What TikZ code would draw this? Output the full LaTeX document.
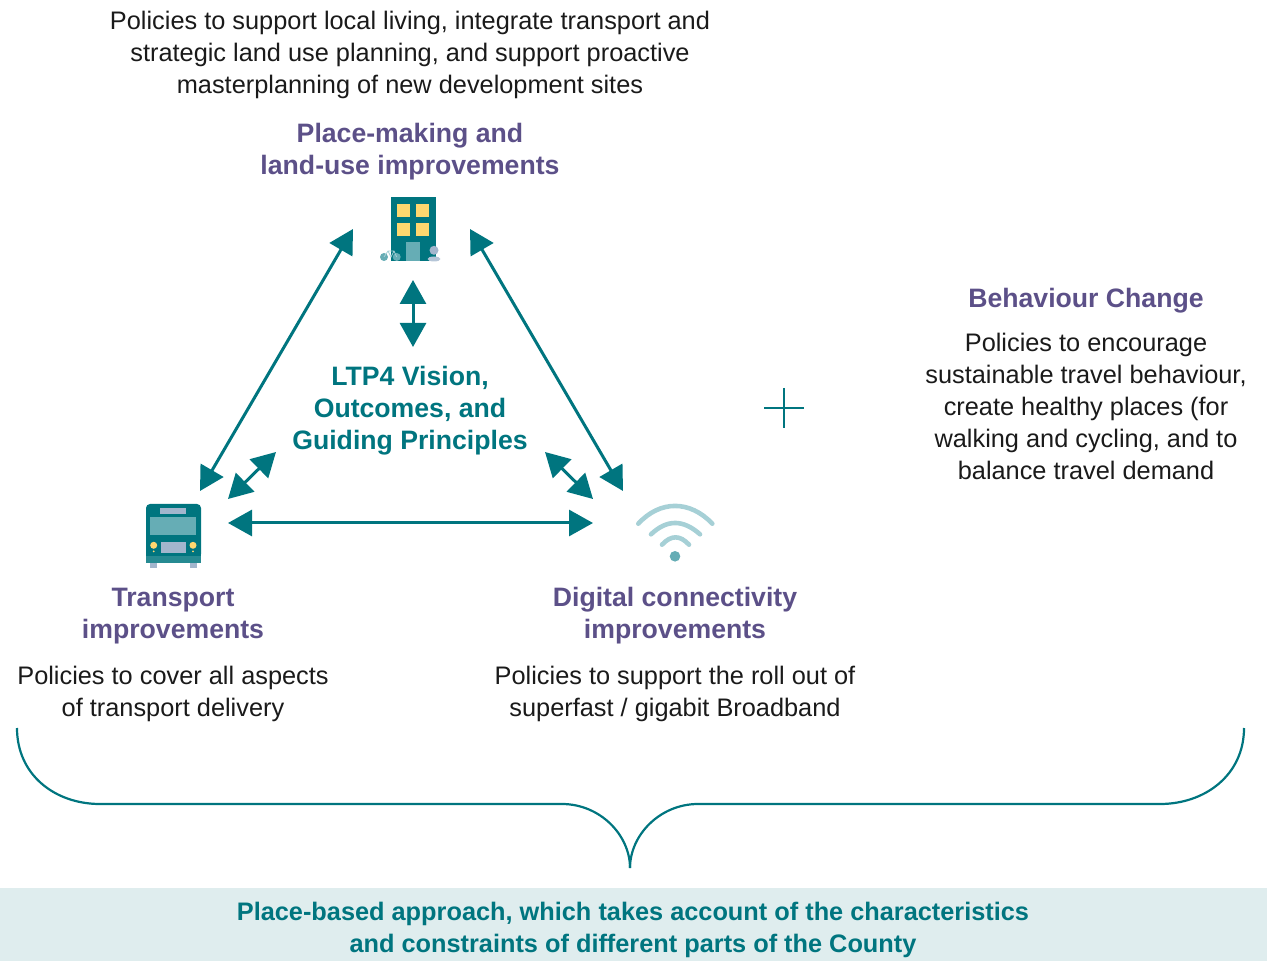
\documentclass[tikz,border=0pt]{standalone}
\usepackage{fontspec}
\setmainfont{Liberation Sans}
\usetikzlibrary{arrows, positioning, arrows.meta}

\definecolor{tealdark}{HTML}{00757F}
\definecolor{tealmid}{HTML}{66ADB5}
\definecolor{teallight}{HTML}{A6D0D6}
\definecolor{bandtint}{HTML}{DFEDEE}
\definecolor{purplehead}{HTML}{5C5088}
\definecolor{lampyellow}{HTML}{FFD76F}
\definecolor{greyblue}{HTML}{A3B6CD}
\definecolor{bodytext}{HTML}{1A1A1A}

\tikzset{
    bodytext/.style={align=center, inner sep=0pt, text=bodytext, font=\fontsize{12.67}{16}\selectfont},
    heading/.style={align=center, inner sep=0pt, text=purplehead, font=\fontsize{13.32}{16}\selectfont\bfseries},
    hubtext/.style={align=center, inner sep=0pt, text=tealdark, font=\fontsize{13.32}{16}\selectfont\bfseries},
    bandtext/.style={hubtext, font=\fontsize{12.66}{16}\selectfont\bfseries},
    link/.style={draw=tealdark, line width=1.5pt, arrows = {Triangle[length=12pt,width=13pt]-Triangle[length=12pt,width=13pt]}},
    thinline/.style={draw=tealdark, line width=0.9pt}
}

\begin{document}
\begin{tikzpicture}[x=0.5pt, y=-0.5pt]
    \useasboundingbox (0,0) rectangle (1267,961);

    % Band
    \fill[bandtint] (0,888) rectangle (1267,961);

    % Nodes
    \node[bodytext] (place policy) at (410,55) {Policies to support local living, integrate transport and\\strategic land use planning, and support proactive\\masterplanning of new development sites};
    \node[heading, below of=place policy, node distance=48.5pt] (place title) {Place-making and\\land-use improvements};
    \node[hubtext] (vision) at (410,411) {LTP4 Vision,\\Outcomes, and\\Guiding Principles};
    \node[heading] (transport title) at (173,616) {Transport\\improvements};
    \node[bodytext, below of=transport title, node distance=39pt] (transport policy) {Policies to cover all aspects\\of transport delivery};
    \node[heading] (digital title) at (675,616) {Digital connectivity\\improvements};
    \node[bodytext, below of=digital title, node distance=39pt] (digital policy) {Policies to support the roll out of\\superfast / gigabit Broadband};
    \node[heading] (behaviour title) at (1086,301) {Behaviour Change};
    \node[bodytext, below of=behaviour title, node distance=52.5pt] (behaviour policy) {Policies to encourage\\sustainable travel behaviour,\\create healthy places (for\\walking and cycling, and to\\balance travel demand};
    \node[bandtext] (band text) at (633,929.5) {Place-based approach, which takes account of the characteristics\\and constraints of different parts of the County};

    % Building
    \fill[tealdark] (391,197) rectangle (436,261);
    \foreach \wx in {397,416}
        \foreach \wy in {204,223}
            \fill[lampyellow] (\wx,\wy) rectangle +(13,13);
    \fill[tealmid] (406,242) rectangle (420,261);
    \fill[tealmid] (384,257) circle (4);
    \fill[tealmid] (396.7,257) circle (4);
    \draw[teallight, line width=0.4pt] (384,257) -- (388,251) -- (394,251) -- (396.7,257) (388,251) -- (391,257) -- (394,251);
    \fill[greyblue] (434,250.3) circle (4.5);
    \fill[greyblue!80] (434,259) ellipse (6.5 and 2.5);

    % Bus
    \fill[tealdark, rounded corners=2pt] (146,504) rectangle (201,558);
    \fill[tealdark] (146,520) rectangle (201,558);
    \fill[tealdark!85!white] (146,556) rectangle (201,563);
    \fill[greyblue] (160,508) rectangle (186,514);
    \fill[tealmid] (150,517) rectangle (196,535);
    \fill[greyblue] (161,542) rectangle (186,553);
    \foreach \lx in {153.7,193} {
        \fill[lampyellow] (\lx,545.3) circle (3.5);
        \fill[lampyellow] (\lx,551.3) circle (1);
    }
    \fill[greyblue] (150,563) rectangle (157,568);
    \fill[greyblue] (190,563) rectangle (197,568);

    % Wifi
    \fill[tealmid] (675,556.3) circle (5.3);
    \draw[teallight, line width=2.3pt, line cap=round] (638.3,523.7) .. controls (660,500) and (690,500) .. (712.3,523.7);
    \draw[teallight, line width=2.3pt, line cap=round] (651,534.3) .. controls (667,519.2) and (683,519.2) .. (700,534.3);
    \draw[teallight, line width=2.3pt, line cap=round] (662,544.7) .. controls (671,534.9) and (680,534.9) .. (689,544.7);

    % Connection ends
    \coordinate (place left) at (353,229);
    \coordinate (place right) at (470,229);
    \coordinate (place low) at (413,280);
    \coordinate (hub top) at (413,347);
    \coordinate (hub left) at (276,452);
    \coordinate (hub right) at (545,452);
    \coordinate (transport top) at (200,491);
    \coordinate (transport hub) at (228,499);
    \coordinate (transport side) at (228,523);
    \coordinate (digital top) at (623,491);
    \coordinate (digital hub) at (593,499);
    \coordinate (digital side) at (593,523);
    \coordinate (plus north) at (784,388);
    \coordinate (plus south) at (784,428);
    \coordinate (plus west) at (764,408);
    \coordinate (plus east) at (804,408);
    \coordinate (brace left) at (17,728);
    \coordinate (brace right) at (1244,728);
    \coordinate (brace tip) at (630,868);

    % Connections
    \draw [link] (place left) -- (transport top);
    \draw [link] (place right) -- (digital top);
    \draw [link] (place low) -- (hub top);
    \draw [link] (hub left) -- (transport hub);
    \draw [link] (hub right) -- (digital hub);
    \draw [link] (transport side) -- (digital side);
    \draw [thinline] (plus north) -- (plus south);
    \draw [thinline] (plus west) -- (plus east);

    % Brace
    \draw [thinline, line width=1.1pt] (brace left) .. controls (17,775) and (55,804) .. (100,804) -- (562,804) .. controls (600,804) and (630,835) .. (brace tip);
    \draw [thinline, line width=1.1pt] (brace right) .. controls (1244,775) and (1205,804) .. (1160,804) -- (698,804) .. controls (660,804) and (630,835) .. (brace tip);
\end{tikzpicture}
\end{document}
